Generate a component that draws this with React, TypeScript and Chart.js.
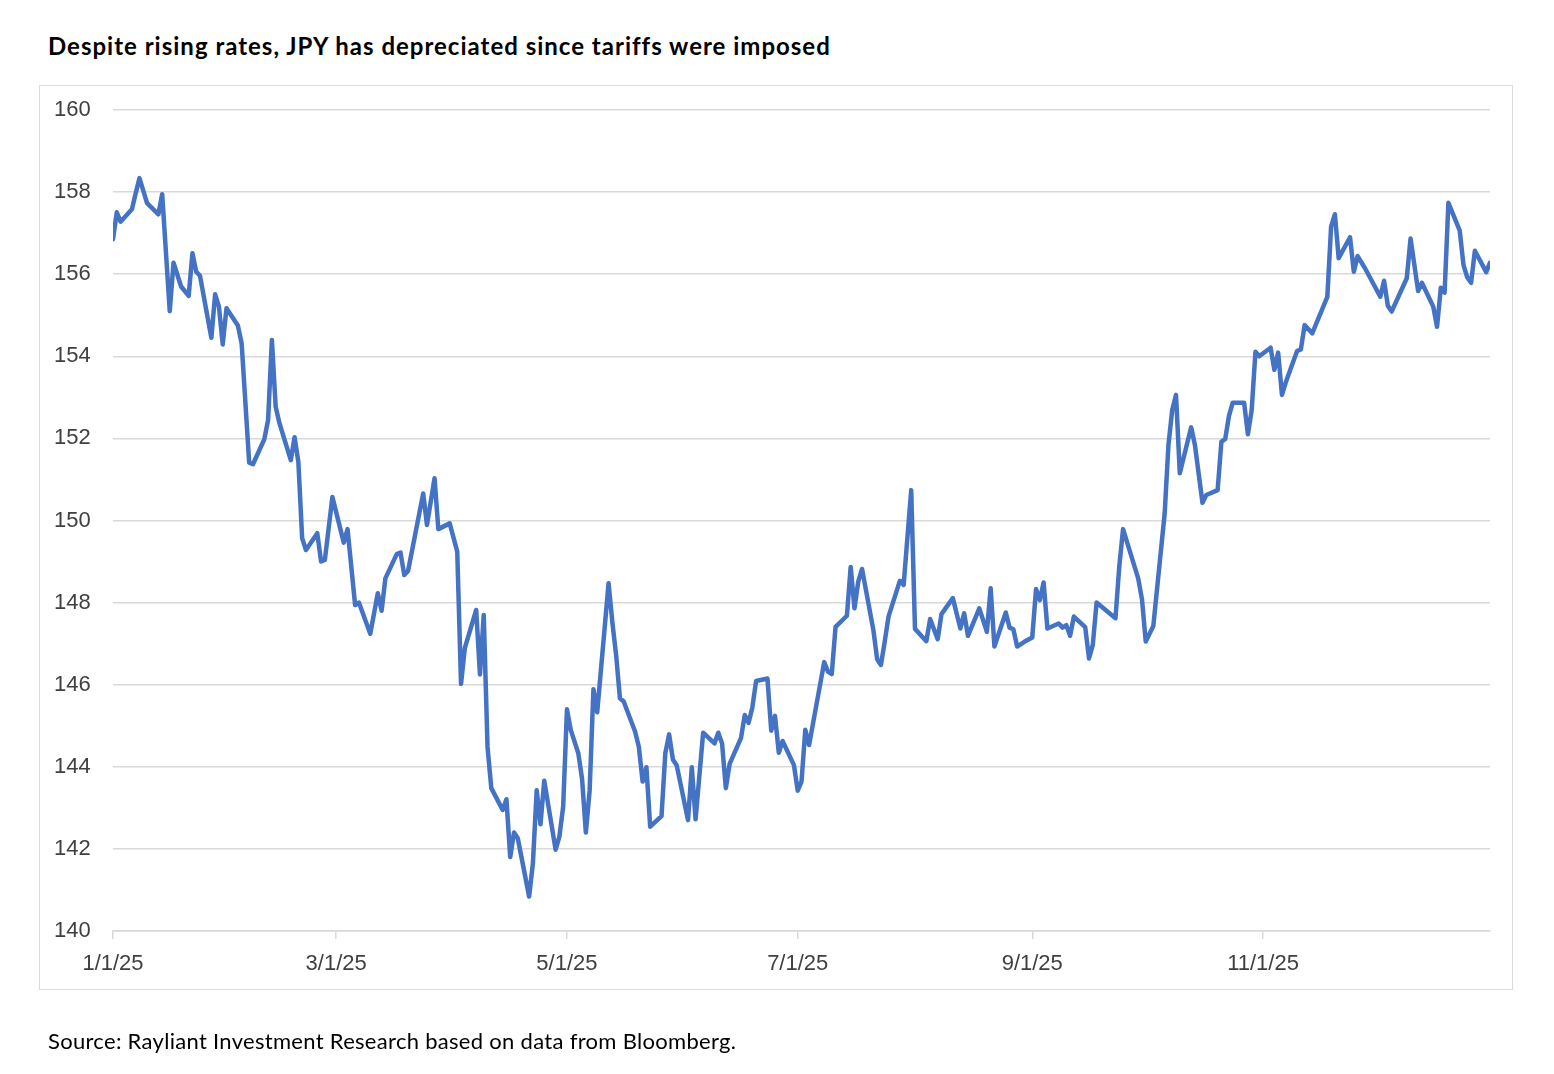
import React, { useEffect, useRef } from 'react';
import { Chart, registerables } from 'chart.js';

Chart.register(...registerables);

// days since 1/1/25 for each observation
const days: number[] = [
  0, 1, 2, 5, 6, 7, 9, 12, 13, 15, 16, 18, 20, 21, 22, 23, 26, 27, 28, 29, 30, 33, 34, 36, 37,
  40, 41, 42, 43, 44, 47, 48, 49, 50, 51, 54, 55, 56, 58, 61, 62, 64, 65, 68, 70, 71, 72, 75,
  76, 77, 78, 82, 83, 85, 86, 89, 91, 92, 93, 96, 97, 98, 99, 100, 103, 104, 105, 106, 107,
  110, 111, 112, 113, 114, 117, 118, 119, 120, 121, 123, 124, 125, 126, 127, 128, 131, 132,
  133, 134, 135, 138, 139, 140, 141, 142, 145, 146, 147, 148, 149, 152, 153, 154, 156, 159,
  160, 161, 162, 163, 166, 167, 168, 169, 170, 173, 174, 175, 176, 177, 180, 181, 182, 183,
  184, 188, 189, 190, 191, 194, 195, 196, 197, 198, 201, 202, 203, 204, 205, 208, 209, 211,
  212, 215, 216, 218, 219, 222, 224, 225, 226, 229, 231, 232, 233, 236, 237, 238, 239, 241,
  243, 244, 245, 246, 247, 250, 251, 252, 253, 254, 257, 258, 259, 260, 265, 266, 267, 271,
  272, 273, 275, 278, 279, 280, 281, 282, 285, 286, 288, 289, 292, 293, 294, 295, 296, 299,
  300, 301, 302, 303, 306, 307, 308, 309, 310, 313, 314, 315, 317, 321, 322, 323, 324, 327,
  328, 329, 331, 335, 336, 337, 338, 342, 343, 345, 346, 349, 350, 351, 352, 353, 356, 357,
  358, 359, 360, 363, 364,
];

// USD/JPY
const usdJpy: number[] = [
  156.85, 157.51, 157.28, 157.58, 157.97, 158.34, 157.73, 157.46, 157.95, 155.1, 156.28, 155.7,
  155.47, 156.51, 156.06, 155.96, 154.45, 155.51, 155.21, 154.29, 155.17, 154.75, 154.32,
  151.41, 151.37, 151.98, 152.45, 154.4, 152.77, 152.37, 151.47, 152.03, 151.42, 149.57,
  149.28, 149.69, 149.0, 149.04, 150.57, 149.46, 149.79, 147.94, 148.0, 147.24, 148.23,
  147.8, 148.59, 149.18, 149.22, 148.67, 148.77, 150.66, 149.89, 151.03, 149.79, 149.93,
  149.24, 146.02, 146.89, 147.82, 146.25, 147.7, 144.49, 143.48, 142.95, 143.21, 141.8,
  142.4, 142.26, 140.84, 141.65, 143.43, 142.6, 143.66, 141.98, 142.3, 143.03, 145.4, 144.9,
  144.33, 143.7, 142.4, 143.43, 145.89, 145.33, 148.47, 147.52, 146.72, 145.67, 145.59,
  144.86, 144.49, 143.64, 143.99, 142.54, 142.8, 144.33, 144.79, 144.18, 144.04, 142.7,
  143.99, 142.72, 144.83, 144.57, 144.83, 144.57, 143.48, 144.07, 144.7, 145.26, 145.07,
  145.44, 146.09, 146.15, 144.88, 145.24, 144.34, 144.63, 144.04, 143.42, 143.64, 144.9,
  144.53, 146.55, 146.32, 146.26, 147.41, 147.68, 148.87, 147.86, 148.51, 148.82, 147.33,
  146.62, 146.48, 147.05, 147.66, 148.53, 148.43, 150.74, 147.36, 147.06, 147.6, 147.11,
  147.72, 148.11, 147.37, 147.74, 147.19, 147.86, 147.29, 148.35, 146.93, 147.76, 147.39,
  147.35, 146.93, 147.05, 147.15, 148.33, 148.06, 148.49, 147.37, 147.49, 147.39, 147.45,
  147.19, 147.66, 147.4, 146.64, 146.97, 148.0, 147.62, 148.88, 149.79, 148.59, 148.08,
  147.05, 147.43, 150.17, 151.84, 152.69, 153.06, 151.15, 152.27, 151.84, 150.43, 150.62,
  150.74, 151.92, 151.98, 152.55, 152.87, 152.87, 152.1, 152.69, 154.11, 154.0, 154.21,
  153.67, 154.09, 153.06, 153.36, 154.13, 154.17, 154.76, 154.56, 155.45, 157.16, 157.46,
  156.39, 156.9, 156.06, 156.44, 156.14, 155.45, 155.84, 155.23, 155.09, 155.9, 156.87,
  155.59, 155.79, 155.21, 154.72, 155.67, 155.55, 157.74, 157.06, 156.22, 155.92, 155.79,
  156.57, 156.05, 156.28,
];

const tickDays: number[] = [0, 59, 120, 181, 243, 304];
const tickLabels: string[] = ['1/1/25', '3/1/25', '5/1/25', '7/1/25', '9/1/25', '11/1/25'];

const GRID = '#d9d9d9';
const TICK_FONT = { family: '"Liberation Sans", Arial, sans-serif', size: 22 };

const App: React.FC = () => {
  const canvasRef = useRef<HTMLCanvasElement>(null);
  const chartRef = useRef<Chart | null>(null);

  useEffect(() => {
    if (!canvasRef.current) return;
    const ctx = canvasRef.current.getContext('2d');
    if (!ctx) return;

    chartRef.current = new Chart(ctx, {
      type: 'line',
      data: {
        datasets: [
          {
            label: 'USDJPY',
            data: days.map((d, i) => ({ x: d, y: usdJpy[i] })),
            borderColor: '#4472c4',
            borderWidth: 4.5,
            borderJoinStyle: 'round',
            borderCapStyle: 'round',
            pointRadius: 0,
            tension: 0,
            fill: false,
          },
        ],
      },
      options: {
        animation: false,
        responsive: false,
        maintainAspectRatio: false,
        layout: { padding: { left: 54, right: 64, top: 110, bottom: 83 } },
        plugins: {
          legend: { display: false },
          tooltip: { enabled: false },
        },
        scales: {
          x: {
            type: 'linear',
            min: 0,
            max: 364,
            afterBuildTicks: (scale) => {
              scale.ticks = tickDays.map((v) => ({ value: v }));
            },
            afterFit: (scale) => {
              scale.height = 60;
            },
            ticks: {
              autoSkip: false,
              maxRotation: 0,
              padding: 12,
              color: '#404040',
              font: TICK_FONT,
              callback: (value) => tickLabels[tickDays.indexOf(Number(value))] ?? '',
            },
            grid: {
              drawOnChartArea: false,
              drawTicks: true,
              tickLength: 8,
              color: GRID,
              lineWidth: 1.5,
            },
            border: { display: true, color: GRID, width: 1.5 },
          },
          y: {
            min: 140,
            max: 160,
            afterFit: (scale) => {
              scale.width = 59;
            },
            ticks: {
              stepSize: 2,
              crossAlign: 'far',
              padding: 0,
              color: '#404040',
              font: TICK_FONT,
            },
            grid: { color: GRID, lineWidth: 1.5, drawTicks: false },
            border: { display: false },
          },
        },
      },
    });

    return () => {
      if (chartRef.current) {
        chartRef.current.destroy();
        chartRef.current = null;
      }
    };
  }, []);

  return (
    <div style={{ position: 'fixed', left: 0, top: 0, width: 1554, height: 1074, background: '#fff' }}>
      <div
        style={{
          position: 'absolute',
          left: 48,
          top: 32,
          fontFamily: 'Lato, sans-serif',
          fontWeight: 700,
          fontSize: 24,
          letterSpacing: 1,
          lineHeight: 1.2,
          color: '#000',
          whiteSpace: 'nowrap',
        }}
      >
        Despite rising rates, JPY has depreciated since tariffs were imposed
      </div>
      <div
        style={{
          position: 'absolute',
          left: 39,
          top: 85,
          width: 1474,
          height: 905,
          border: `1.5px solid ${GRID}`,
          boxSizing: 'border-box',
        }}
      />
      <canvas
        ref={canvasRef}
        width={1554}
        height={1074}
        style={{ position: 'absolute', left: 0, top: 0, width: 1554, height: 1074 }}
      />
      <div
        style={{
          position: 'absolute',
          left: 48,
          top: 1028,
          fontFamily: 'Lato, sans-serif',
          fontSize: 22,
          letterSpacing: 0.3,
          lineHeight: 1.2,
          color: '#000',
          whiteSpace: 'nowrap',
        }}
      >
        Source: Rayliant Investment Research based on data from Bloomberg.
      </div>
    </div>
  );
};

export default App;
